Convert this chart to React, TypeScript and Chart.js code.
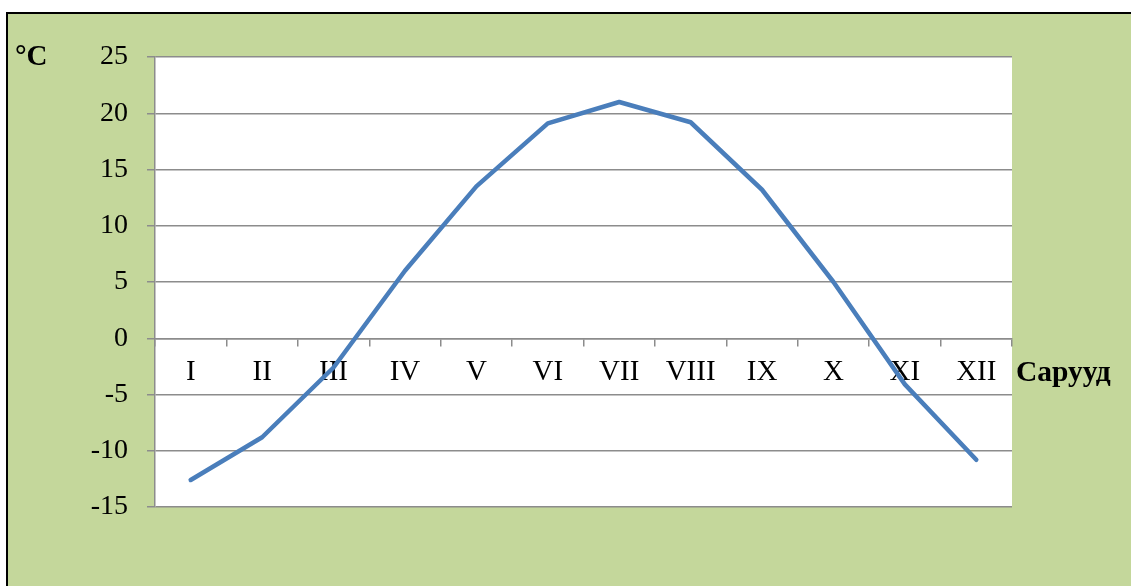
import React, { useEffect, useRef } from "react";
import { Chart, registerables } from "chart.js";

Chart.register(...registerables);

const months = ["I", "II", "III", "IV", "V", "VI", "VII", "VIII", "IX", "X", "XI", "XII"];
const temperatures = [-12.6, -8.8, -2.6, 6.0, 13.5, 19.1, 21.0, 19.2, 13.2, 5.0, -4.1, -10.8];
const yTicks = [-15, -10, -5, 0, 5, 10, 15, 20, 25];
const yUnit = "°C";
const xTitle = "Сарууд";

const W = 1131;
const H = 586;
const GREEN = "#c4d79b";
const GRID = "#8c8c8c";
const LINE = "#4a7ebb";
const FONT = "'Liberation Serif', 'Times New Roman', serif";

const decorPlugin = {
  id: "decor",
  beforeDraw(chart: any) {
    const { ctx, chartArea } = chart;
    ctx.save();
    ctx.fillStyle = "#ffffff";
    ctx.fillRect(0, 0, W, H);
    ctx.fillStyle = GREEN;
    ctx.fillRect(6, 12, W, H);
    ctx.fillStyle = "#000000";
    ctx.fillRect(6, 12, W, 2);
    ctx.fillRect(6, 12, 2, H);
    ctx.fillStyle = "#ffffff";
    ctx.fillRect(chartArea.left, chartArea.top, chartArea.right - chartArea.left, chartArea.bottom - chartArea.top);
    ctx.restore();
  },
  afterDraw(chart: any) {
    const { ctx } = chart;
    ctx.save();
    ctx.fillStyle = "#000000";
    ctx.textBaseline = "alphabetic";
    ctx.textAlign = "left";
    ctx.font = `bold 29px ${FONT}`;
    ctx.fillText(yUnit, 15, 65);
    ctx.font = `bold 29.5px ${FONT}`;
    ctx.fillText(xTitle, 1016, 381);
    ctx.restore();
  },
};

export default function App() {
  const ref = useRef<HTMLCanvasElement>(null);
  useEffect(() => {
    if (!ref.current) return;
    const chart = new Chart(ref.current, {
      type: "line",
      data: {
        labels: months,
        datasets: [
          {
            data: temperatures,
            borderColor: LINE,
            borderWidth: 4.5,
            pointRadius: 0,
            tension: 0,
            borderCapStyle: "round",
            borderJoinStyle: "round",
            fill: false,
          },
        ],
      },
      options: {
        responsive: false,
        animation: false,
        layout: { padding: { top: 57, bottom: 79, right: 119, left: 0 } },
        plugins: { legend: { display: false }, tooltip: { enabled: false } },
        scales: {
          x: {
            type: "category",
            position: { y: 0 } as any,
            offset: true,
            grid: {
              offset: true,
              drawOnChartArea: false,
              drawTicks: true,
              tickLength: 7,
              color: GRID,
              lineWidth: 1.5,
            },
            border: { display: true, color: GRID, width: 1.5 },
            ticks: {
              color: "#000000",
              font: { family: FONT, size: 29 },
              padding: 10,
              maxRotation: 0,
              autoSkip: false,
            },
          },
          y: {
            min: -15,
            max: 25,
            afterBuildTicks: (scale: any) => {
              scale.ticks = yTicks.map((v) => ({ value: v }));
            },
            afterFit: (scale: any) => {
              scale.width = 155;
            },
            grid: {
              color: GRID,
              lineWidth: 1.5,
              tickLength: 8,
            },
            border: { display: true, color: GRID, width: 1.5 },
            ticks: {
              color: "#000000",
              font: { family: FONT, size: 28 },
              padding: 19,
            },
          },
        },
      },
      plugins: [decorPlugin],
    });
    return () => chart.destroy();
  }, []);
  return (
    <div style={{ position: "fixed", left: 0, top: 0, width: W, height: H }}>
      <canvas ref={ref} width={W} height={H} style={{ width: W, height: H, display: "block" }} />
    </div>
  );
}
